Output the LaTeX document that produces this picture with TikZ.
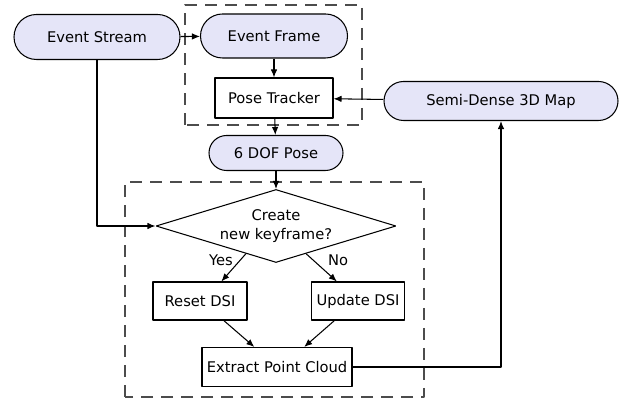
\documentclass[tikz,border=0pt]{standalone}
\usepackage{fontspec}
\setmainfont{DejaVu Sans}
\usetikzlibrary{shapes.geometric,arrows.meta,calc}
\definecolor{termfill}{RGB}{229,229,248}
\tikzset{
  term/.style={draw=black,fill=termfill,rectangle,rounded corners=#1,inner sep=0pt},
  proc/.style={draw=black,rectangle,inner sep=0pt},
  stage/.style={draw=black!70,dash pattern=on 12bp off 8bp},
}
\begin{document}
\begin{tikzpicture}[>={Latex[length=8bp,width=6.5bp]},line join=bevel,line width=1.05bp,
    font=\fontsize{14.7bp}{19bp}\selectfont]
    \useasboundingbox (0bp,0bp) rectangle (629bp,403bp);
    %% dashed stages
    \draw [stage] (185bp,278bp) rectangle (362bp,398bp);
    \draw [stage] (125bp,6bp) rectangle (424bp,221bp);
    %%
    \node (es) at (97bp,366bp) [term=22.5bp,minimum width=166bp,minimum height=45bp] {Event Stream};
    \node (ef) at (274bp,367bp) [term=22bp,minimum width=147bp,minimum height=44bp] {Event Frame};
    \node (pt) at (274bp,305bp) [proc,minimum width=118bp,minimum height=40bp] {Pose Tracker};
    \node (map) at (501bp,302bp) [term=19.5bp,minimum width=234bp,minimum height=39bp] {Semi-Dense 3D Map};
    \node (pose) at (276bp,250bp) [term=17.5bp,minimum width=134bp,minimum height=35bp] {6 DOF Pose};
    \node (dec) at (276bp,177bp) [draw=black,diamond,aspect=3.29,inner sep=0pt,minimum width=240bp,minimum height=73bp,align=center] {Create\\new keyframe?};
    \node (reset) at (200bp,102bp) [proc,minimum width=94bp,minimum height=38bp] {Reset DSI};
    \node (update) at (358bp,102bp) [proc,minimum width=93bp,minimum height=38bp] {Update DSI};
    \node (extract) at (277bp,36bp) [proc,minimum width=150bp,minimum height=39bp] {Extract Point Cloud};
    \node (yes) at (221bp,143bp) {Yes};
    \node (no) at (338bp,143bp) {No};
    %%
    \draw [->] (es) -- (ef);
    \draw [->] (ef) -- (pt);
    \draw [->] (pt) -- (pose);
    \draw [->] (pose) -- (dec);
    \draw [->] (es.south) |- (dec.west);
    \draw [->] (map) -- (pt);
    \draw [->] ($(dec.west)!0.75!(dec.south)$) -- ($(reset.north)!0.45!(reset.north east)$);
    \draw [->] ($(dec.east)!0.75!(dec.south)$) -- ($(update.north)!0.45!(update.north west)$);
    \draw [->] ($(reset.south)!0.5!(reset.south east)$) -- ($(extract.north)!0.3!(extract.north west)$);
    \draw [->] ($(update.south)!0.5!(update.south west)$) -- ($(extract.north)!0.36!(extract.north east)$);
    \draw [->] (extract.east) -| (map.south);
    %
\end{tikzpicture}
\end{document}
